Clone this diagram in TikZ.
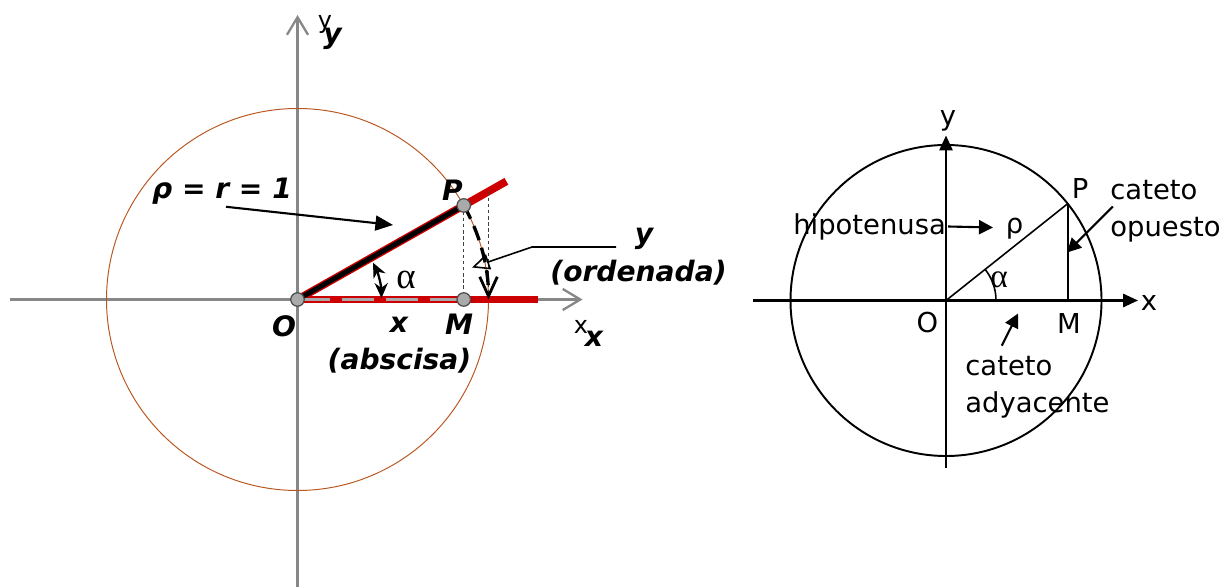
\documentclass[tikz,border=0pt]{standalone}
\usepackage{fontspec}
\setsansfont{DejaVu Sans}
\newfontfamily\greekserif{Liberation Serif}
\usetikzlibrary{arrows.meta,calc,positioning}
\definecolor{circbrown}{RGB}{185,85,30}
\definecolor{barred}{RGB}{204,0,0}
\definecolor{axisgray}{RGB}{135,135,135}
\definecolor{dotgray}{RGB}{170,170,170}

\begin{document}
\begin{tikzpicture}[
  font=\sffamily,
  axisL/.style={line width=1.6pt, draw=axisgray, -{Straight Barb[length=10pt,width=12pt,line width=1.3pt]}},
  axisR/.style={line width=1.3pt, -{Triangle[length=8.5pt,width=7.5pt]}},
  circL/.style={draw=circbrown, line width=0.55pt},
  circR/.style={line width=1.1pt},
  redbar/.style={draw=barred, line width=4.4pt},
  blackbar/.style={line width=2.8pt},
  graydash/.style={draw=dotgray, line width=2pt, dash pattern=on 0.64cm off 0.24cm},
  guide/.style={draw=black!75, line width=0.55pt, dash pattern=on 2pt off 1.5pt},
  arcdash/.style={line width=1.9pt, dash pattern=on 0.3cm off 0.16cm, -{Straight Barb[length=11pt,width=10pt,line width=1.6pt]}},
  dot/.style={circle, fill=dotgray, draw=black!70, line width=0.7pt, inner sep=0pt, minimum size=0.27cm},
  pointer/.style={line width=1.2pt, -{Triangle[length=10pt,width=8.5pt]}},
  openptr/.style={line width=0.9pt, -{Triangle[open,length=10pt,width=9pt,line width=0.9pt]}},
  angarr/.style={line width=1.3pt, {Stealth[length=8.5pt,width=7.5pt]}-{Stealth[length=8.5pt,width=7.5pt]}},
  ptrR/.style={line width=1.2pt, -{Triangle[length=8pt,width=8pt]}},
  boldlab/.style={font=\sffamily\bfseries\itshape\fontsize{16}{18}\selectfont, inner sep=1pt},
  thinlab/.style={font=\sffamily\fontsize{13.6}{16}\selectfont, inner sep=1pt},
  lab/.style={font=\sffamily\fontsize{15.6}{20.8}\selectfont, inner sep=1pt, align=left},
  greek/.style={font=\greekserif\fontsize{19}{22}\selectfont, inner sep=1pt}
]
\useasboundingbox (0,0) rectangle (24.46,11.72);

% geometry (1 cm = 50 px of the original)
\def\RL{3.82}
\def\aL{29.5}
\def\RR{3.11}
\def\aR{38.5}

% =========================================================
% LEFT PANEL
% =========================================================
\begin{scope}[shift={(5.95,5.73)}]
  \coordinate (OL) at (0,0);
  \draw[axisL] (-5.75,0) -- (5.7,0);
  \draw[axisL] (0,-5.8) -- (0,5.69);
  \draw[circL] (OL) circle [radius=\RL];

  \coordinate (PL) at (\aL:\RL);
  \coordinate (ML) at (PL |- OL);
  \coordinate (EL) at (\aL:4.8);
  \coordinate (XL) at (4.8,0);
  \coordinate (TL) at (\RL,{\RL*tan(\aL)});
  \coordinate (QL) at (\RL,0);

  \draw[redbar] (OL) -- (EL);
  \draw[redbar] (OL) -- (XL);
  \draw[graydash] (OL) -- (ML);
  \draw[blackbar] (OL) -- (PL);

  \draw[guide] (PL) -- (ML);
  \draw[guide] (TL) -- (QL);
  \draw[arcdash] (PL) arc [start angle=\aL, end angle=0, radius=\RL];
  \draw[angarr] (26:1.68) arc [start angle=26, end angle=1, radius=1.68];

  \node[dot] (dotO) at (OL) {};
  \node[dot] (dotP) at (PL) {};
  \node[dot] (dotM) at (ML) {};

  % labels
  \node[boldlab] (rhoL) at (-1.51,2.16) {ρ = r = 1};
  \node[boldlab] (labP) at (3.10,2.19) {P};
  \node[boldlab] (labO) at (-0.27,-0.53) {O};
  \node[boldlab] (labx) at (2.03,-0.5) {x};
  \node[boldlab] (labM) at (3.23,-0.5) {M};
  \node[boldlab] (absc) at (2.04,-1.22) {(abscisa)};
  \node[greek, font=\greekserif\fontsize{21}{24}\selectfont] (alfL) at (2.17,0.4) {α};
  \node[boldlab] (yB) at (6.93,1.22) {y};
  \node[boldlab] (orde) at (6.82,0.54) {(ordenada)};
  \node[thinlab] (ythin) at (0.55,5.51) {y};
  \node[boldlab] (ybold) at (0.7,5.22) {y};
  \node[thinlab] (xthin) at (5.67,-0.54) {x};
  \node[boldlab] (xbold) at (5.93,-0.79) {x};

  % pointers
  \coordinate (rhoTip) at (1.91,1.49);
  \draw[pointer] ($(rhoL.south)+(0.08,0)$) -- (rhoTip);
  \coordinate (ordStart) at ($(yB.west)+(-0.33,-0.17)$);
  \coordinate (ordBend) at (4.69,1.05);
  \coordinate (ordTip) at (3.49,0.64);
  \draw[openptr] (ordStart) -- (ordBend) -- (ordTip);
\end{scope}

% =========================================================
% RIGHT PANEL
% =========================================================
\begin{scope}[shift={(18.92,5.71)}]
  \coordinate (OR) at (0,0);
  \draw[circR] (OR) circle [radius=\RR];
  \draw[axisR] (-3.86,0) -- (3.84,0);
  \draw[axisR] (0,-3.34) -- (0,3.3);

  \coordinate (PR) at (\aR:\RR);
  \coordinate (MR) at (PR |- OR);
  \draw[line width=0.9pt] (OR) -- (PR);
  \draw[line width=1.2pt] (PR) -- (MR);
  \draw[line width=0.9pt] (1,0) arc [start angle=0, end angle=\aR, radius=1];

  % labels
  \node[lab] (labyR) at (0.04,3.59) {y};
  \node[lab] (labxR) at (4.06,-0.05) {x};
  \node[lab] (labOR) at (-0.37,-0.45) {O};
  \node[lab] (labMR) at (2.46,-0.47) {M};
  \node[lab] (labPR) at (2.68,2.23) {P};
  \node[lab] (rhoR) at (1.37,1.43) {ρ};
  \node[greek] (alfR) at (1.06,0.41) {α};
  \node[lab, anchor=east] (hipo) at (0.04,1.48) {hipotenusa};
  \node[lab, anchor=west] (opu) at (3.245,1.78) {cateto\\opuesto};
  \node[lab, anchor=west] (ady) at (0.345,-1.73) {cateto\\adyacente};

  % pointers
  \coordinate (hipoTip) at (0.94,1.46);
  \coordinate (opuTip) at (2.42,0.96);
  \coordinate (adyTip) at (1.44,-0.26);
  \draw[ptrR] (hipo.east) -- (hipoTip);
  \draw[ptrR] ($(opu.west)+(0.09,0.1)$) -- (opuTip);
  \draw[ptrR] ($(ady.north west)+(0.77,0.17)$) -- (adyTip);
\end{scope}
\end{tikzpicture}
\end{document}
